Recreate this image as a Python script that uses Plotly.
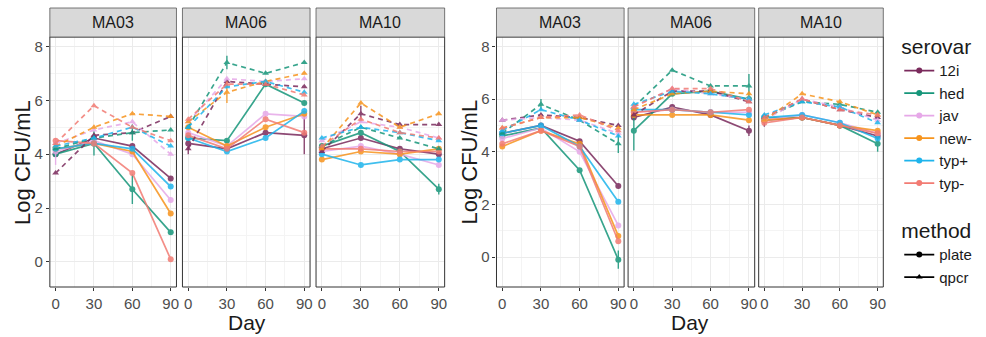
import plotly.graph_objects as go

# ---- data -------------------------------------------------------------
DAYS = [0, 30, 60, 90]
SEROVARS = ["12i", "hed", "jav", "new-", "typ+", "typ-"]
FACETS = ["MA03", "MA06", "MA10"]
METHODS = ["plate", "qpcr"]
Y_TICKS = [0, 2, 4, 6, 8]
X_TICKS = [0, 30, 60, 90]

# mean log CFU/mL per serovar at each day (left block)
LEFT_MA03_PLATE = {"12i": [4.0, 4.6, 4.3, 3.1], "hed": [4.0, 4.4, 2.7, 1.1],
                   "jav": [4.1, 4.5, 4.0, 2.3], "new-": [4.2, 4.4, 4.1, 1.8],
                   "typ+": [4.2, 4.4, 4.2, 2.8], "typ-": [4.5, 4.4, 3.3, 0.1]}
LEFT_MA03_QPCR = {"12i": [3.3, 4.7, 4.8, 5.4], "hed": [4.2, 4.6, 4.8, 4.9],
                  "jav": [4.4, 4.9, 5.2, 4.0], "new-": [4.3, 5.0, 5.5, 5.4],
                  "typ+": [4.3, 4.6, 5.0, 4.3], "typ-": [4.4, 5.8, 5.0, 4.5]}
LEFT_MA06_PLATE = {"12i": [4.4, 4.2, 4.8, 4.7], "hed": [4.6, 4.5, 6.6, 5.9],
                   "jav": [4.8, 4.3, 5.5, 5.4], "new-": [5.0, 4.3, 5.0, 5.5],
                   "typ+": [4.6, 4.1, 4.6, 5.6], "typ-": [4.7, 4.2, 5.3, 4.8]}
LEFT_MA06_QPCR = {"12i": [4.2, 6.7, 6.6, 6.5], "hed": [5.0, 7.4, 7.0, 7.4],
                  "jav": [5.2, 6.8, 6.7, 6.8], "new-": [5.2, 6.3, 6.7, 7.0],
                  "typ+": [5.0, 6.5, 6.7, 6.3], "typ-": [5.3, 6.6, 6.6, 6.2]}
LEFT_MA10_PLATE = {"12i": [4.2, 4.6, 4.2, 4.0], "hed": [4.3, 4.8, 4.1, 2.7],
                   "jav": [4.1, 4.3, 4.0, 3.6], "new-": [3.8, 4.1, 4.0, 4.2],
                   "typ+": [4.0, 3.6, 3.8, 3.8], "typ-": [4.2, 4.2, 4.1, 4.1]}
LEFT_MA10_QPCR = {"12i": [4.1, 5.5, 5.1, 5.1], "hed": [4.3, 5.0, 4.6, 4.2],
                  "jav": [4.5, 5.2, 5.0, 4.6], "new-": [4.2, 5.9, 5.0, 5.5],
                  "typ+": [4.6, 5.0, 4.8, 4.5], "typ-": [4.3, 5.3, 4.8, 4.6]}

# mean log CFU/mL per serovar at each day (right block)
RIGHT_MA03_PLATE = {"12i": [4.7, 5.0, 4.4, 2.7], "hed": [4.6, 4.9, 3.3, -0.1],
                    "jav": [4.5, 4.9, 4.0, 1.2], "new-": [4.2, 4.8, 4.3, 0.8],
                    "typ+": [4.7, 5.0, 4.2, 2.1], "typ-": [4.3, 4.8, 4.2, 0.6]}
RIGHT_MA03_QPCR = {"12i": [5.2, 5.4, 5.3, 5.0], "hed": [4.7, 5.8, 5.2, 4.3],
                   "jav": [5.2, 5.3, 5.2, 4.7], "new-": [4.9, 5.3, 5.3, 4.9],
                   "typ+": [4.8, 5.6, 5.2, 4.6], "typ-": [4.9, 5.3, 5.4, 4.8]}
RIGHT_MA06_PLATE = {"12i": [5.3, 5.7, 5.4, 4.8], "hed": [4.8, 6.2, 6.3, 6.0],
                    "jav": [5.5, 5.6, 5.5, 5.5], "new-": [5.4, 5.4, 5.4, 5.2],
                    "typ+": [5.6, 5.6, 5.5, 5.4], "typ-": [5.5, 5.6, 5.5, 5.6]}
RIGHT_MA06_QPCR = {"12i": [5.4, 6.3, 6.3, 5.9], "hed": [5.7, 7.1, 6.5, 6.5],
                   "jav": [5.7, 6.4, 6.2, 6.0], "new-": [5.6, 6.2, 6.3, 6.2],
                   "typ+": [5.8, 6.3, 6.2, 6.0], "typ-": [5.7, 6.4, 6.4, 5.9]}
RIGHT_MA10_PLATE = {"12i": [5.2, 5.3, 5.0, 4.6], "hed": [5.3, 5.3, 5.0, 4.3],
                    "jav": [5.2, 5.4, 5.1, 4.7], "new-": [5.2, 5.3, 5.0, 4.8],
                    "typ+": [5.3, 5.4, 5.1, 4.5], "typ-": [5.1, 5.3, 5.0, 4.7]}
RIGHT_MA10_QPCR = {"12i": [5.3, 6.0, 5.6, 5.3], "hed": [5.3, 5.9, 5.8, 5.5],
                   "jav": [5.2, 6.0, 5.7, 5.2], "new-": [5.2, 6.2, 5.9, 5.4],
                   "typ+": [5.4, 5.9, 5.7, 5.1], "typ-": [5.3, 6.0, 5.6, 5.4]}

# standard deviations large enough to show: (block, facet, method, serovar, day, sd)
ERROR_BARS = [
    ("left", "MA03", "plate", "hed", 60, 0.55),
    ("left", "MA03", "plate", "hed", 30, 0.45),
    ("left", "MA03", "plate", "jav", 0, 0.5),
    ("left", "MA03", "qpcr", "hed", 60, 0.3),
    ("left", "MA06", "plate", "12i", 0, 0.4),
    ("left", "MA06", "plate", "12i", 90, 0.7),
    ("left", "MA06", "qpcr", "new-", 30, 0.4),
    ("left", "MA06", "qpcr", "hed", 30, 0.25),
    ("left", "MA10", "plate", "hed", 90, 0.2),
    ("left", "MA10", "qpcr", "12i", 30, 0.3),
    ("right", "MA03", "plate", "hed", 90, 0.35),
    ("right", "MA03", "qpcr", "hed", 90, 0.35),
    ("right", "MA03", "qpcr", "hed", 30, 0.2),
    ("right", "MA06", "plate", "hed", 0, 0.75),
    ("right", "MA06", "qpcr", "hed", 90, 0.45),
    ("right", "MA06", "plate", "12i", 90, 0.2),
    ("right", "MA10", "plate", "hed", 90, 0.3),
    ("right", "MA10", "plate", "12i", 0, 0.25),
]

COLORS = {"12i": "#7A2A5C", "hed": "#16967A", "jav": "#E6A8E8",
          "new-": "#F7941D", "typ+": "#1EB4EC", "typ-": "#F27B73"}
SYMBOLS = {"plate": "circle", "qpcr": "triangle-up"}
DASHES = {"plate": "solid", "qpcr": "5px,4px"}

BLOCKS = {
    "left": {"MA03": {"plate": LEFT_MA03_PLATE, "qpcr": LEFT_MA03_QPCR},
             "MA06": {"plate": LEFT_MA06_PLATE, "qpcr": LEFT_MA06_QPCR},
             "MA10": {"plate": LEFT_MA10_PLATE, "qpcr": LEFT_MA10_QPCR}},
    "right": {"MA03": {"plate": RIGHT_MA03_PLATE, "qpcr": RIGHT_MA03_QPCR},
              "MA06": {"plate": RIGHT_MA06_PLATE, "qpcr": RIGHT_MA06_QPCR},
              "MA10": {"plate": RIGHT_MA10_PLATE, "qpcr": RIGHT_MA10_QPCR}},
}

# ---- layout geometry (pixels) ----------------------------------------
W, H = 986, 337
PANEL_X = {"left": [(50, 177), (183, 311), (317, 446)],
           "right": [(498, 626), (630, 757), (761, 886)]}
PANEL_TOP, PANEL_BOT = 37, 287
STRIP_TOP = 8
Y_RANGE = {"left": [-0.93, 8.35], "right": [-1.14, 8.36]}
AXIS_IDS = {"left": ["", "2", "3"], "right": ["4", "5", "6"]}
Y_IDS = {"left": "", "right": "2"}


def px(x):
    return x / W


def py(y):
    return 1 - y / H


FONT = "Liberation Sans, Arial, sans-serif"
GRID = "#EBEBEB"
MINOR_GRID = "#F4F4F4"
TICK_FONT = dict(size=15, color="#4D4D4D")

fig = go.Figure()

for block, facets in BLOCKS.items():
    ysuf = Y_IDS[block]
    for fi, facet in enumerate(FACETS):
        xsuf = AXIS_IDS[block][fi]
        for method in METHODS:
            series = facets[facet][method]
            for sv in SEROVARS:
                vals = series[sv]
                errs = [0.0] * len(DAYS)
                for b, f, m, s, d, sd in ERROR_BARS:
                    if (b, f, m, s) == (block, facet, method, sv):
                        errs[DAYS.index(d)] = sd
                fig.add_trace(go.Scatter(
                    x=DAYS, y=vals, mode="lines+markers",
                    line=dict(color=COLORS[sv], width=1.7, dash=DASHES[method]),
                    marker=dict(symbol=SYMBOLS[method], size=6, color=COLORS[sv]),
                    error_y=dict(type="data", array=errs, visible=any(errs),
                                 color=COLORS[sv], thickness=1.4, width=0),
                    opacity=0.85,
                    xaxis="x" + xsuf, yaxis="y" + ysuf,
                    showlegend=False, hoverinfo="skip",
                ))

# legend entries
for sv in SEROVARS:
    fig.add_trace(go.Scatter(
        x=[None], y=[None], mode="lines+markers", name=sv,
        line=dict(color=COLORS[sv], width=1.7),
        marker=dict(symbol="circle", size=6, color=COLORS[sv]),
        legend="legend", xaxis="x", yaxis="y"))
for method in METHODS:
    fig.add_trace(go.Scatter(
        x=[None], y=[None], mode="lines+markers", name=method,
        line=dict(color="black", width=1.7),
        marker=dict(symbol=SYMBOLS[method], size=6, color="black"),
        legend="legend2", xaxis="x", yaxis="y"))

LEGEND_TITLE_FONT = dict(size=21, color="#1A1A1A")
LEGEND_ITEM_FONT = dict(size=15, color="#1A1A1A")

layout = dict(
    width=W, height=H, margin=dict(l=0, r=0, t=0, b=0),
    paper_bgcolor="white", plot_bgcolor="white",
    font=dict(family=FONT, color="#4D4D4D", size=15),
    shapes=[], annotations=[],
    legend=dict(title=dict(text="serovar", font=LEGEND_TITLE_FONT),
                x=px(902), y=py(27), xanchor="left", yanchor="top",
                font=LEGEND_ITEM_FONT, itemwidth=30,
                bgcolor="rgba(0,0,0,0)", tracegroupgap=0),
    legend2=dict(title=dict(text="method", font=LEGEND_TITLE_FONT),
                 x=px(902), y=py(211), xanchor="left", yanchor="top",
                 font=LEGEND_ITEM_FONT, itemwidth=30,
                 bgcolor="rgba(0,0,0,0)", tracegroupgap=0),
)

for block in ("left", "right"):
    ysuf = Y_IDS[block]
    first_x = "x" + AXIS_IDS[block][0]
    layout["yaxis" + ysuf] = dict(
        domain=[py(PANEL_BOT), py(PANEL_TOP)], range=Y_RANGE[block],
        anchor=first_x, tickvals=Y_TICKS, ticks="outside", ticklen=3,
        tickcolor="#333333", tickfont=TICK_FONT,
        showgrid=True, gridcolor=GRID, gridwidth=1.1, zeroline=False,
        minor=dict(tickvals=[1, 3, 5, 7], showgrid=True, gridcolor=MINOR_GRID,
                   gridwidth=0.6, ticks=""),
        fixedrange=True,
    )
    for fi, facet in enumerate(FACETS):
        xsuf = AXIS_IDS[block][fi]
        x0, x1 = PANEL_X[block][fi]
        layout["xaxis" + xsuf] = dict(
            domain=[px(x0), px(x1)], range=[-4.5, 94.5], anchor="y" + ysuf,
            tickvals=X_TICKS, ticks="outside", ticklen=3, tickcolor="#333333",
            tickfont=TICK_FONT,
            showgrid=True, gridcolor=GRID, gridwidth=1.1, zeroline=False,
            minor=dict(tickvals=[15, 45, 75], showgrid=True, gridcolor=MINOR_GRID,
                       gridwidth=0.6, ticks=""),
            fixedrange=True,
        )
        # panel border
        layout["shapes"].append(dict(
            type="rect", xref="paper", yref="paper", layer="above",
            x0=px(x0), x1=px(x1), y0=py(PANEL_BOT), y1=py(PANEL_TOP),
            line=dict(color="#333333", width=1), fillcolor="rgba(0,0,0,0)"))
        # facet strip
        layout["shapes"].append(dict(
            type="rect", xref="paper", yref="paper", layer="above",
            x0=px(x0), x1=px(x1), y0=py(PANEL_TOP), y1=py(STRIP_TOP),
            line=dict(color="#555555", width=0.8), fillcolor="#D9D9D9"))
        layout["annotations"].append(dict(
            text=facet, xref="paper", yref="paper", showarrow=False,
            x=px((x0 + x1) / 2), y=py((STRIP_TOP + PANEL_TOP) / 2),
            xanchor="center", yanchor="middle",
            font=dict(size=16, color="#1A1A1A")))

    xl = PANEL_X[block][0][0]
    xr = PANEL_X[block][-1][1]
    layout["annotations"].append(dict(
        text="Day", xref="paper", yref="paper", showarrow=False,
        x=px((xl + xr) / 2), y=py(322), xanchor="center", yanchor="middle",
        font=dict(size=21, color="#1A1A1A")))
    layout["annotations"].append(dict(
        text="Log CFU/mL", xref="paper", yref="paper", showarrow=False,
        textangle=-90, x=px(xl - 27), y=py((PANEL_TOP + PANEL_BOT) / 2),
        xanchor="center", yanchor="middle",
        font=dict(size=22, color="#1A1A1A")))

fig.update_layout(**layout)
fig.write_html("out.html")
